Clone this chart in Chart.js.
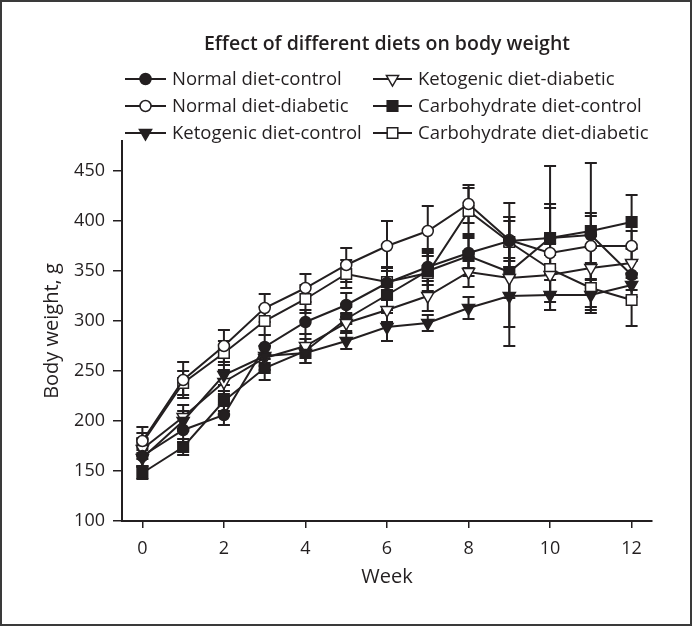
<!DOCTYPE html>
<html>
<head>
<meta charset="utf-8">
<script src="https://cdn.jsdelivr.net/npm/chart.js@4/dist/chart.umd.min.js"></script>
<style>
  body { margin: 0; background: #fff; }
  #frame { width: 692px; height: 626px; box-sizing: border-box; border: 2px solid #3a3a3a; }
</style>
</head>
<body>
<div id="frame"><canvas id="miGrafica" width="688" height="622"></canvas></div>
<script>
'use strict'

// DATOS
const semanas = [0, 1, 2, 3, 4, 5, 6, 7, 8, 9, 10, 11, 12];
const xTicks = [0, 2, 4, 6, 8, 10, 12];
const yTicks = [100, 150, 200, 250, 300, 350, 400, 450];

const normalControl   = [165, 191, 206, 274, 299, 316, 338, 354, 368, 380, 383, 386, 346];
const normalDiabetic  = [180, 241, 275, 313, 333, 356, 375, 390, 417, 381, 368, 375, 375];
const ketoControl     = [163, 200, 246, 265, 268, 280, 294, 298, 313, 325, 326, 326, 336];
const ketoDiabetic    = [172, 204, 239, 263, 275, 298, 311, 325, 349, 343, 346, 353, 358];
const carbControl     = [148, 174, 220, 253, 270, 302, 326, 350, 365, 349, 383, 390, 399];
const carbDiabetic    = [178, 238, 268, 300, 322, 347, 339, 348, 410, 379, 352, 333, 321];

// desviaciones (barras de error)
const sdNormalControl  = [10, 12, 10, 12, 12, 12, 15, 18, 15, 20, 30, 72, 15];
const sdNormalDiabetic = [14, 18, 16, 14, 14, 17, 25, 25, 19, 37, 49, 33, 15];
const sdKetoControl    = [8, 10, 10, 10, 10, 8, 14, 8, 11, 50, 15, 15, 12];
const sdKetoDiabetic   = [10, 12, 12, 12, 12, 10, 12, 15, 15, 20, 20, 20, 15];
const sdCarbControl    = [6, 8, 10, 12, 12, 12, 15, 20, 20, 55, 72, 15, 27];
const sdCarbDiabetic   = [10, 12, 12, 14, 14, 14, 15, 20, 23, 25, 25, 25, 26];

const INK = '#231f20';
const FUENTE = '"Open Sans", "DejaVu Sans", sans-serif';

function serie(label, valores, sd, estilo, relleno, radio, rotacion) {
  return {
    label: label,
    data: semanas.map((s, i) => ({ x: s, y: valores[i] })),
    errores: sd,
    borderColor: INK,
    borderWidth: 2,
    pointStyle: estilo,
    pointRadius: radio,
    pointRotation: rotacion || 0,
    pointBackgroundColor: relleno ? INK : '#fff',
    pointBorderColor: INK,
    pointBorderWidth: 1.5,
    tension: 0
  };
}

const datasets = [
  serie('Normal diet-control', normalControl, sdNormalControl, 'circle', true, 5.5),
  serie('Normal diet-diabetic', normalDiabetic, sdNormalDiabetic, 'circle', false, 5.5),
  serie('Ketogenic diet-control', ketoControl, sdKetoControl, 'triangle', true, 7, 180),
  serie('Ketogenic diet-diabetic', ketoDiabetic, sdKetoDiabetic, 'triangle', false, 7, 180),
  serie('Carbohydrate diet-control', carbControl, sdCarbControl, 'rect', true, 7.5),
  serie('Carbohydrate diet-diabetic', carbDiabetic, sdCarbDiabetic, 'rect', false, 7.5)
];

// BARRAS DE ERROR, debajo de las lineas
const barrasError = {
  id: 'barrasError',
  beforeDatasetsDraw(chart) {
    const ctx = chart.ctx;
    const xs = chart.scales.x, ys = chart.scales.y;
    ctx.save();
    ctx.strokeStyle = INK;
    ctx.lineWidth = 2;
    chart.data.datasets.forEach(ds => {
      ds.data.forEach((p, i) => {
        const sd = ds.errores[i];
        const x = xs.getPixelForValue(p.x);
        const y1 = ys.getPixelForValue(p.y + sd);
        const y2 = ys.getPixelForValue(p.y - sd);
        ctx.beginPath();
        ctx.moveTo(x, y1); ctx.lineTo(x, y2);
        ctx.moveTo(x - 6, y1); ctx.lineTo(x + 6, y1);
        ctx.moveTo(x - 6, y2); ctx.lineTo(x + 6, y2);
        ctx.stroke();
      });
    });
    ctx.restore();
  }
};

// LEYENDA EN DOS COLUMNAS
const leyenda = {
  id: 'leyenda',
  afterDraw(chart) {
    const ctx = chart.ctx;
    const cols = [{ l0: 123, l1: 164, t: 170 }, { l0: 371, l1: 410, t: 416 }];
    const filas = [77, 104, 131];
    ctx.save();
    ctx.font = '18.5px ' + FUENTE;
    ctx.textBaseline = 'middle';
    chart.data.datasets.forEach((ds, i) => {
      const c = cols[Math.floor(i / 3)], y = filas[i % 3];
      ctx.strokeStyle = INK;
      ctx.lineWidth = 2;
      ctx.beginPath();
      ctx.moveTo(c.l0, y); ctx.lineTo(c.l1, y);
      ctx.stroke();
      ctx.fillStyle = ds.pointBackgroundColor;
      ctx.lineWidth = ds.pointBorderWidth;
      Chart.helpers.drawPoint(ctx, {
        pointStyle: ds.pointStyle,
        rotation: ds.pointRotation,
        radius: ds.pointRadius,
        borderWidth: ds.pointBorderWidth
      }, (c.l0 + c.l1) / 2, y);
      ctx.fillStyle = INK;
      ctx.fillText(ds.label, c.t, y + 1);
    });
    ctx.restore();
  }
};

const ctx = document.getElementById('miGrafica').getContext('2d');

new Chart(ctx, {
  type: 'line',
  data: { datasets: datasets },
  plugins: [barrasError, leyenda],
  options: {
    responsive: false,
    animation: false,
    layout: { padding: { left: 0, right: 38, top: 0, bottom: 33 } },
    scales: {
      x: {
        type: 'linear',
        min: -0.5,
        max: 12.5,
        afterBuildTicks: s => { s.ticks = xTicks.map(v => ({ value: v })); },
        afterFit: s => { s.height = 70; },
        ticks: { color: INK, font: { family: FUENTE, size: 18 }, padding: 10 },
        grid: { drawOnChartArea: false, tickLength: 7, color: INK, lineWidth: 1.5 },
        border: { color: INK, width: 2 },
        title: {
          display: true,
          text: 'Week',
          color: INK,
          font: { family: FUENTE, size: 20 },
          padding: { top: 0, bottom: 2 }
        }
      },
      y: {
        min: 100,
        max: 480,
        afterBuildTicks: s => { s.ticks = yTicks.map(v => ({ value: v })); },
        afterFit: s => { s.width = 120; },
        ticks: { color: INK, font: { family: FUENTE, size: 18 }, padding: 8 },
        grid: { drawOnChartArea: false, tickLength: 9, color: INK, lineWidth: 1.5 },
        border: { color: INK, width: 2 },
        title: {
          display: true,
          text: 'Body weight, g',
          color: INK,
          font: { family: FUENTE, size: 20 },
          padding: { top: 38, bottom: 0 }
        }
      }
    },
    plugins: {
      legend: { display: false },
      tooltip: { enabled: false },
      title: {
        display: true,
        fullSize: false,
        text: 'Effect of different diets on body weight',
        color: INK,
        font: { family: FUENTE, size: 19.5, weight: '600' },
        padding: { top: 31, bottom: 84.6 }
      }
    }
  }
});
</script>
</body>
</html>
